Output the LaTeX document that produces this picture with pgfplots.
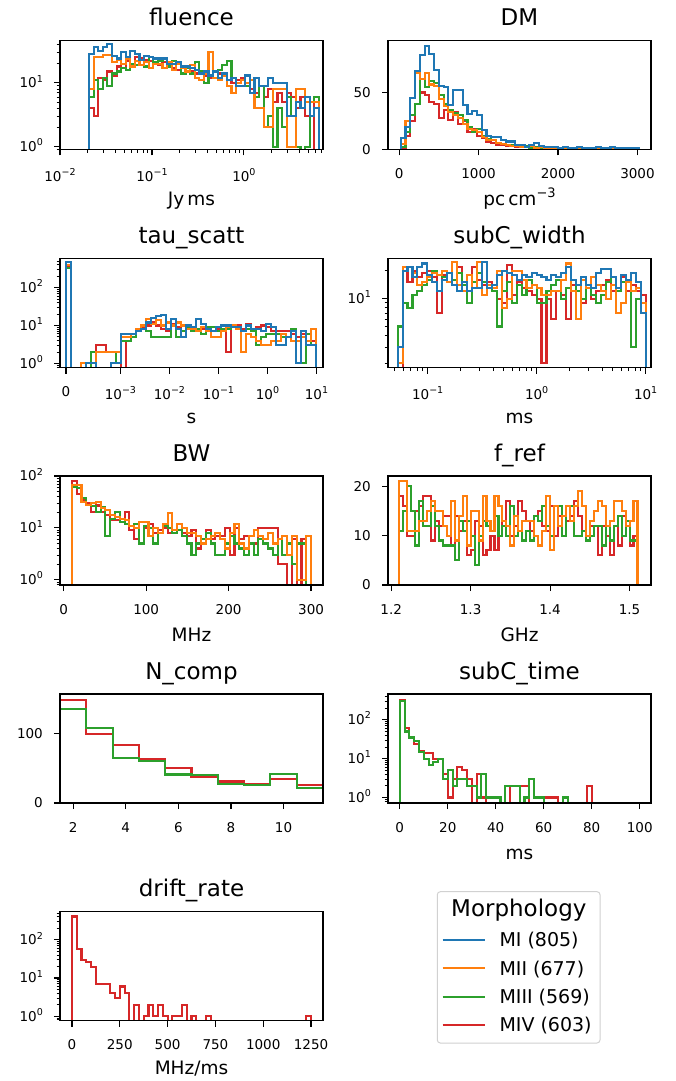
\documentclass[border=0pt]{standalone}
\usepackage{pgfplots}
\pgfplotsset{compat=1.18}
\usepackage{pgfplotstable}
\usepackage{fontspec}
\setmainfont{DejaVu Sans}
\definecolor{cblue}{HTML}{1F77B4}
\definecolor{corange}{HTML}{FF7F0E}
\definecolor{cgreen}{HTML}{2CA02C}
\definecolor{cred}{HTML}{D62728}
\newcommand\tk{\fontsize{13.5}{16}\selectfont}
\newcommand\pw[1]{10\raisebox{0.42em}{\fontsize{9.5}{10}\selectfont #1}}

\pgfplotsset{
  base/.style={
    scale only axis, width=263pt, height=109pt, anchor=north west,
    axis on top,
    axis line style={line width=1.1pt},
    tick align=outside, tick pos=left,
    major tick length=6pt, minor tick length=3.5pt,
    tick style={line width=1.1pt, black},
    minor tick style={line width=0.8pt},
    tick label style={font=\tk},
    xticklabel style={anchor=north, inner sep=0pt},
    yticklabel style={anchor=base east, inner sep=0pt, yshift=-4.9pt},
    xticklabel shift=13pt, yticklabel shift=11pt,
    title style={font=\fontsize{23}{27}\selectfont, at={(axis description cs:0.5,1)}, anchor=base, yshift=9pt},
    xlabel style={font=\fontsize{18.5}{22}\selectfont, at={(axis description cs:0.5,0)}, anchor=base, yshift=-56pt},
    no markers, scaled ticks=false,
  },
  h/.style={const plot, line width=2.1pt},
}

\pgfplotstableread{
e a b c d
-1.685 0 0 0 0
-1.685 28 8 6 4
-1.635 36 25 11 3
-1.585 31 25 8 12
-1.535 36 27 12 11
-1.485 40 27 9 15
-1.435 26 21 14 13
-1.385 24 23 15 18
-1.335 30 20 17 17
-1.285 25 24 16 22
-1.235 32 18 20 20
-1.185 28 22 19 25
-1.135 23 19 23 24
-1.085 26 21 18 23
-1.035 25 17 25 22
-0.985 24 20 21 20
-0.935 24 20 22 19
-0.885 24 17 24 21
-0.835 20 21 18 18
-0.785 20 16 22 17
-0.735 21 20 20 16
-0.685 18 17 14 18
-0.635 18 15 17 17
-0.585 17 19 14 15
-0.535 16 12 21 14
-0.485 14 11 15 15
-0.435 15 14 10 13
-0.385 13 30 13 12
-0.335 15 12 15 12
-0.285 12 11 16 14
-0.235 14 13 19 13
-0.185 11 9 22 11
-0.135 12 7 12 10
-0.085 9 10 10 11
-0.035 9 11 11 12
0.015 13 10 9 9
0.065 7 11 7 8
0.115 12 4 6 7
0.165 9 4 9 9
0.215 9 2 2 6
0.265 12 2 3 8
0.315 10 8 1 5
0.365 10 8 4 7
0.415 10 8 2 5
0.465 3 1 6 7
0.515 3 1 3 6
0.565 5 8 1 4
0.615 4 8 0 6
0.665 6 5 1 3
0.715 3 5 5 5
0.765 4 5 6 0
0.815 4 5 6 0
0.815 0 0 0 0
}\tflu

\pgfplotstableread{
e a b c d
20 0 0 0 0
20 10 5 2 0
80 20 25 15 12
140 45 45 30 25
200 69 67 40 40
260 83 62 62 50
320 91 67 55 48
380 84 57 60 42
440 70 56 58 40
500 56 44 48 28
560 55 38 40 35
620 39 33 35 26
680 52 30 32 33
740 52 28 30 22
800 39 22 26 25
860 31 18 20 15
920 34 17 15 18
980 30 15 18 12
1040 17 11 12 10
1100 12 8 9 7
1160 11 8 8 6
1220 11 6 6 4
1280 8 5 5 4
1340 7 4 4 3
1400 7 3 4 3
1460 4 3 3 2
1520 4 2 2 2
1580 2 2 3 2
1640 4 3 1 1
1700 6 1 2 2
1760 3 2 1 1
1820 2 1 1 1
1880 2 1 1 0
1940 2 1 0 1
2000 1 0 1 0
2060 2 1 0 0
2120 1 1 1 1
2180 1 0 0 0
2240 2 1 0 0
2300 1 0 1 0
2360 1 0 0 0
2420 1 1 0 0
2480 2 0 0 0
2540 1 1 0 0
2600 1 0 0 0
2660 2 0 0 0
2720 1 1 0 0
2780 1 1 0 0
2840 1 0 0 0
2900 1 1 0 0
2960 1 0 0 0
3020 1 0 0 0
3020 0 0 0 0
}\tdm

\pgfplotstableread{
e a b c d
0 0 0 0 0
0 464 400 330 380
0.102 0 0 0 0
0.204 0 0 0 0
0.307 0 1 0 0
0.409 1 1 0 0
0.511 1 1 2 0
0.613 0 2 2 3
0.716 0 2 2 3
0.818 0 2 2 2
0.920 1 2 2 2
1.022 1 2 1 2
1.124 6 5 4 0
1.227 6 5 4 4
1.329 6 6 5 5
1.431 7 8 7 7
1.533 8 10 10 9
1.635 12 15 7 10
1.738 16 11 5 12
1.840 18 14 5 10
1.942 19 10 5 8
2.044 8 12 5 7
2.146 15 10 10 11
2.249 8 12 5 9
2.351 5 10 7 10
2.453 10 8 9 8
2.555 9 8 7 9
2.658 15 7 8 8
2.760 11 9 6 8
2.862 8 7 9 8
2.964 7 5 9 7
3.066 9 5 7 8
3.168 10 7 8 7
3.271 10 9 8 2
3.373 9 10 9 9
3.475 9 8 8 10
3.577 7 2 7 8
3.680 10 6 8 11
3.782 8 5 7 8
3.884 8 4 3 9
3.986 7 3 5 10
4.088 11 3 6 9
4.190 9 4 6 7
4.293 3 4 6 7
4.395 3 6 5 7
4.497 5 5 5 7
4.599 7 4 8 6
4.702 1 4 4 5
4.804 7 5 1 6
4.906 3 4 6 3
5.008 3 8 3 4
5.111 3 8 3 4
5.111 0 0 0 0
}\ttau

\pgfplotstableread{
e a b c d
-1.276 0 0 0 0
-1.276 3 2 5 0
-1.230 20 22 9 20
-1.185 22 22 8 15
-1.139 17 19 11 20
-1.094 22 14 12 17
-1.048 24 15 14 19
-1.003 18 17 16 20
-0.957 15 19 20 17
-0.912 12 18 18 7
-0.866 16 20 17 18
-0.821 19 15 19 15
-0.775 14 25 16 14
-0.730 12 14 19 22
-0.684 15 12 14 14
-0.639 12 18 9 12
-0.593 13 13 15 22
-0.548 13 25 19 16
-0.502 25 11 15 14
-0.457 13 14 14 15
-0.411 14 13 12 12
-0.366 18 20 5 10
-0.320 20 8 12 9
-0.275 19 10 15 23
-0.229 18 20 9 11
-0.184 16 20 14 15
-0.138 18 16 11 13
-0.093 17 13 16 12
-0.047 19 14 14 11
-0.001 18 13 9 10
0.044 17 11 9 2
0.090 16 11 12 10
0.135 18 12 14 6
0.181 17 12 16 12
0.226 19 16 10 11
0.272 22 24 13 6
0.317 16 12 16 14
0.363 14 6 12 12
0.408 17 16 10 9
0.454 14 13 13 13
0.499 13 17 11 10
0.545 19 14 9 12
0.590 21 12 11 14
0.636 21 10 15 16
0.681 17 14 17 12
0.727 13 7 12 13
0.772 18 9 15 17
0.818 16 15 15 12
0.863 19 12 3 14
0.909 15 13 10 12
0.954 7 9 9 11
1.000 7 9 9 11
1.000 0 0 0 0
}\twid

\pgfplotstableread{
e b c d
10 0 0 0
10 68 62 80
15.8 68 58 45
21.6 32 38 35
27.4 28 28 30
33.2 30 26 20
39 31 20 27
44.8 24 25 20
50.6 22 7 18
56.4 18 15 14
62.2 16 20 14
68 15 13 15
73.8 14 12 20
79.6 11 11 9
85.4 10 12 6
91.2 13 5 5
97 13 11 10
102.8 7 10 12
108.6 10 5 8
114.4 8 8 9
120.2 12 11 10
126 19 10 8
131.8 9 8 9
137.6 12 9 9
143.4 10 7 8
149.2 8 5 7
155 8 3 9
160.8 7 5 4
166.6 5 6 6
172.4 6 8 9
178.2 7 5 6
184 8 3 7
189.8 6 3 7
195.6 4 5 10
201.4 8 7 3
207.2 12 5 10
213 5 4 6
218.8 4 3 7
224.6 7 5 5
230.4 9 3 5
236.2 7 6 10
242 6 5 10
247.8 8 4 10
253.6 5 3 10
259.4 6 6 2
265.2 7 3 2
271 3 5 0
276.8 7 2 6
282.6 1 5 0
288.4 1 5 6
294.2 7 0 0
300 7 0 0
300 0 0 0
}\tbw

\pgfplotstableread{
e b c d
1.210 0 0 0
1.210 21 11 18
1.215 21 15 16
1.220 11 20 10
1.225 11 15 10
1.230 11 8 15
1.235 13 17 16
1.240 13 12 18
1.245 15 12 18
1.250 17 16 9
1.255 15 12 13
1.260 15 9 12
1.265 12 8 14
1.270 10 8 14
1.275 17 8 8
1.280 9 5 14
1.285 14 13 11
1.290 18 11 13
1.295 8 13 6
1.300 15 10 7
1.305 15 4 13
1.310 9 10 12
1.315 18 13 6
1.320 13 12 7
1.325 11 11 10
1.330 18 14 7
1.335 16 10 10
1.340 13 12 13
1.345 12 10 17
1.350 8 16 10
1.355 14 10 12
1.360 11 11 17
1.365 13 9 15
1.370 13 11 13
1.375 13 9 11
1.380 10 14 14
1.385 8 13 15
1.390 11 16 12
1.395 18 12 11
1.400 7 10 16
1.405 16 16 10
1.410 12 16 14
1.415 14 10 14
1.420 16 16 13
1.425 13 16 14
1.430 16 10 17
1.435 19 10 14
1.440 16 11 11
1.445 10 9 10
1.450 13 10 12
1.455 15 12 12
1.460 17 12 6
1.465 16 8 12
1.470 12 12 10
1.475 13 9 6
1.480 17 12 12
1.485 17 14 8
1.490 15 10 14
1.495 12 13 12
1.500 13 9 8
1.505 17 9 10
1.510 17 9 10
1.510 0 0 0
}\tfref

\pgfplotstableread{
e c d
1.5 0 0
1.5 136 149
2.5 108 100
3.5 65 84
4.5 61 63
5.5 41 51
6.5 40 38
7.5 28 31
8.5 26 28
9.5 42 34
10.5 21 26
11.5 21 26
11.5 0 0
}\tncomp

\pgfplotstableread{
e c d
0 0 0
0 300 316
2 50 63
4 35 35
6 28 24
8 15 16
10 10 14
12 7 14
14 8 10
16 10 10
18 3 4
20 5 1
22 2 3
24 3 6
26 3 5
28 2 3
30 2 0
32 1 4
34 4 1
36 1 0
38 1 0
40 1 0
42 0 0
44 2 2
46 2 0
48 2 0
50 0 2
52 1 2
54 3 0
56 1 0
58 1 0
60 0 1
62 0 1
64 0 1
66 0 0
68 1 0
70 0 0
72 0 0
74 0 0
76 0 0
78 0 2
80 0 0
82 0 0
84 0 0
86 0 0
88 0 0
90 0 0
92 0 0
94 0 0
96 0 0
98 0 0
100 0 0
100 0 0
}\tstime

\pgfplotstableread{
e d
0 0
0 408
25 58
50 30
75 26
100 19
125 7
150 7
175 7
200 4
225 3
250 6
275 4
300 0
325 2
350 0
375 1
400 2
425 1
450 2
475 1
500 0
525 1
550 1
575 2
600 0
625 1
650 0
675 0
700 1
725 0
750 0
775 0
800 0
825 0
850 0
875 0
900 0
925 0
950 0
975 0
1000 0
1025 0
1050 0
1075 0
1100 0
1125 0
1150 0
1175 0
1200 0
1225 1
1250 1
1250 0
}\tdrift

\begin{document}
\begin{tikzpicture}
\useasboundingbox (0pt,0pt) rectangle (676pt,-1081pt);

% fluence
\begin{axis}[base, at={(60pt,-40.5pt)}, title={fluence}, xlabel={Jy\,ms},
  xmin=-2, xmax=0.86, ymode=log, ymin=0.9, ymax=46,
  xtick={-2,-1,0}, xticklabels={\pw{−2},\pw{−1},\pw{0}},
  minor xtick={-1.699,-1.523,-1.398,-1.301,-1.222,-1.155,-1.097,-1.046,-0.699,-0.523,-0.398,-0.301,-0.222,-0.155,-0.097,-0.046,0.301,0.477,0.602,0.699,0.778,0.845},
  ytick={1,10}, yticklabels={\pw{0},\pw{1}},
  minor ytick={0.9,2,3,4,5,6,7,8,9,20,30,40}]
\addplot[h, cred] table[x=e, y expr={max(\thisrow{d},0.001)}] {\tflu};
\addplot[h, cgreen] table[x=e, y expr={max(\thisrow{c},0.001)}] {\tflu};
\addplot[h, corange] table[x=e, y expr={max(\thisrow{b},0.001)}] {\tflu};
\addplot[h, cblue] table[x=e, y expr={max(\thisrow{a},0.001)}] {\tflu};
\end{axis}

% DM
\begin{axis}[base, at={(388pt,-40.5pt)}, title={DM}, xlabel={pc\,cm\raisebox{0.42em}{\fontsize{13}{14}\selectfont −3}},
  xmin=-140, xmax=3170, ymin=0, ymax=95.6,
  xtick={0,1000,2000,3000}, xticklabels={0,1000,2000,3000},
  ytick={0,50}, yticklabels={0,50}]
\addplot[h, cred] table[x=e, y=d] {\tdm};
\addplot[h, cgreen] table[x=e, y=c] {\tdm};
\addplot[h, corange] table[x=e, y=b] {\tdm};
\addplot[h, cblue] table[x=e, y=a] {\tdm};
\end{axis}

% tau_scatt
\begin{axis}[base, at={(60pt,-258.5pt)}, title={tau\_scatt}, xlabel={s},
  xmin=-0.122, xmax=5.245, ymode=log, ymin=0.78, ymax=583,
  xtick={0,1.111,2.111,3.111,4.111,5.111}, xticklabels={0,\pw{−3},\pw{−2},\pw{−1},\pw{0},\pw{1}},
  ytick={1,10,100}, yticklabels={\pw{0},\pw{1},\pw{2}},
  minor ytick={0.8,0.9,2,3,4,5,6,7,8,9,20,30,40,50,60,70,80,90,200,300,400,500}]
\addplot[h, cred] table[x=e, y expr={max(\thisrow{d},0.001)}] {\ttau};
\addplot[h, cgreen] table[x=e, y expr={max(\thisrow{c},0.001)}] {\ttau};
\addplot[h, corange] table[x=e, y expr={max(\thisrow{b},0.001)}] {\ttau};
\addplot[h, cblue] table[x=e, y expr={max(\thisrow{a},0.001)}] {\ttau};
\end{axis}

% subC_width
\begin{axis}[base, at={(388pt,-258.5pt)}, title={subC\_width}, xlabel={ms},
  xmin=-1.364, xmax=1.049, ymode=log, ymin=1.8, ymax=27.2,
  xtick={-1,0,1}, xticklabels={\pw{−1},\pw{0},\pw{1}},
  minor xtick={-1.301,-1.222,-1.155,-1.097,-1.046,-0.699,-0.523,-0.398,-0.301,-0.222,-0.155,-0.097,-0.046,0.301,0.477,0.602,0.699,0.778,0.845,0.903,0.954},
  ytick={10}, yticklabels={\pw{1}},
  minor ytick={2,3,4,5,6,7,8,9,20}]
\addplot[h, cred] table[x=e, y expr={max(\thisrow{d},0.001)}] {\twid};
\addplot[h, cgreen] table[x=e, y expr={max(\thisrow{c},0.001)}] {\twid};
\addplot[h, corange] table[x=e, y expr={max(\thisrow{b},0.001)}] {\twid};
\addplot[h, cblue] table[x=e, y expr={max(\thisrow{a},0.001)}] {\twid};
\end{axis}

% BW
\begin{axis}[base, at={(60pt,-476pt)}, title={BW}, xlabel={MHz},
  xmin=-4.5, xmax=314.5, ymode=log, ymin=0.79, ymax=100,
  xtick={0,100,200,300}, xticklabels={0,100,200,300},
  ytick={1,10,100}, yticklabels={\pw{0},\pw{1},\pw{2}},
  minor ytick={0.8,0.9,2,3,4,5,6,7,8,9,20,30,40,50,60,70,80,90}]
\addplot[h, cred] table[x=e, y expr={max(\thisrow{d},0.001)}] {\tbw};
\addplot[h, cgreen] table[x=e, y expr={max(\thisrow{c},0.001)}] {\tbw};
\addplot[h, corange] table[x=e, y expr={max(\thisrow{b},0.001)}] {\tbw};
\end{axis}

% f_ref
\begin{axis}[base, at={(388pt,-476pt)}, title={f\_ref}, xlabel={GHz},
  xmin=1.196, xmax=1.527, ymin=0, ymax=22.05,
  xtick={1.2,1.3,1.4,1.5}, xticklabels={1.2,1.3,1.4,1.5},
  ytick={0,10,20}, yticklabels={0,10,20}]
\addplot[h, cred] table[x=e, y=d] {\tfref};
\addplot[h, cgreen] table[x=e, y=c] {\tfref};
\addplot[h, corange] table[x=e, y=b] {\tfref};
\end{axis}

% N_comp
\begin{axis}[base, at={(60pt,-694pt)}, title={N\_comp},
  xmin=1.5, xmax=11.5, ymin=0, ymax=157,
  xtick={2,4,6,8,10}, xticklabels={2,4,6,8,10},
  ytick={0,100}, yticklabels={0,100}]
\addplot[h, cred] table[x=e, y=d] {\tncomp};
\addplot[h, cgreen] table[x=e, y=c] {\tncomp};
\end{axis}

% subC_time
\begin{axis}[base, at={(388pt,-694pt)}, title={subC\_time}, xlabel={ms},
  xmin=-4.9, xmax=104.7, ymode=log, ymin=0.72, ymax=460,
  xtick={0,20,40,60,80,100}, xticklabels={0,20,40,60,80,100},
  ytick={1,10,100}, yticklabels={\pw{0},\pw{1},\pw{2}},
  minor ytick={0.8,0.9,2,3,4,5,6,7,8,9,20,30,40,50,60,70,80,90,200,300,400}]
\addplot[h, cred] table[x=e, y expr={max(\thisrow{d},0.001)}] {\tstime};
\addplot[h, cgreen] table[x=e, y expr={max(\thisrow{c},0.001)}] {\tstime};
\end{axis}

% drift_rate
\begin{axis}[base, at={(60pt,-911.5pt)}, title={drift\_rate}, xlabel={MHz/ms},
  xlabel style={yshift=2pt},
  xmin=-62.5, xmax=1312.5, ymode=log, ymin=0.77, ymax=550,
  xtick={0,250,500,750,1000,1250}, xticklabels={0,250,500,750,1000,1250},
  ytick={1,10,100}, yticklabels={\pw{0},\pw{1},\pw{2}},
  minor ytick={0.8,0.9,2,3,4,5,6,7,8,9,20,30,40,50,60,70,80,90,200,300,400,500}]
\addplot[h, cred] table[x=e, y expr={max(\thisrow{d},0.001)}] {\tdrift};
\end{axis}

% legend
\draw[rounded corners=3pt, draw=black!18, fill=white, line width=1pt] (437.3pt,-891.7pt) rectangle (600pt,-1043pt);
\node[anchor=base, inner sep=0pt, font=\fontsize{23}{27}\selectfont] at (518.8pt,-916.7pt) {Morphology};
\draw[cblue, line width=2.1pt] (442.7pt,-940pt) -- (485pt,-940pt);
\node[anchor=base west, inner sep=0pt, font=\fontsize{19}{22}\selectfont] at (499.3pt,-946.7pt) {MI (805)};
\draw[corange, line width=2.1pt] (442.7pt,-968.4pt) -- (485pt,-968.4pt);
\node[anchor=base west, inner sep=0pt, font=\fontsize{19}{22}\selectfont] at (499.3pt,-975.1pt) {MII (677)};
\draw[cgreen, line width=2.1pt] (442.7pt,-996.8pt) -- (485pt,-996.8pt);
\node[anchor=base west, inner sep=0pt, font=\fontsize{19}{22}\selectfont] at (499.3pt,-1003.5pt) {MIII (569)};
\draw[cred, line width=2.1pt] (442.7pt,-1025.2pt) -- (485pt,-1025.2pt);
\node[anchor=base west, inner sep=0pt, font=\fontsize{19}{22}\selectfont] at (499.3pt,-1031.9pt) {MIV (603)};
\end{tikzpicture}
\end{document}
